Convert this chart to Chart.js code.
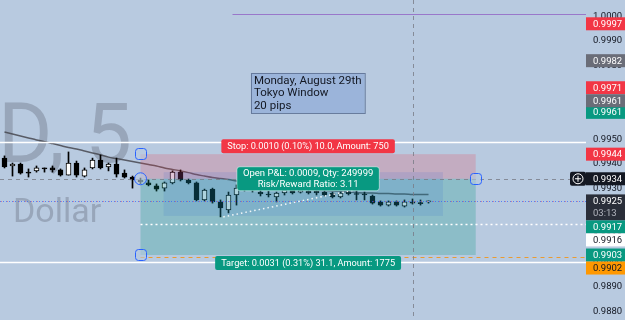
<!DOCTYPE html>
<html>
<head>
<meta charset="utf-8">
<script src="https://cdn.jsdelivr.net/npm/chart.js@4.4.0/dist/chart.umd.min.js"></script>
<style>
  html, body { margin: 0; padding: 0; background: #b8cae0; }
  #wrap { width: 625px; height: 320px; position: relative; }
</style>
</head>
<body>
<div id="wrap"><canvas id="candleChart"></canvas></div>
<script>
// 5 min candles, oldest first
const opens = [0.99424, 0.99392, 0.99400, 0.99367, 0.99372, 0.99384, 0.99384, 0.99376, 0.99355, 0.99404,
  0.99351, 0.99384, 0.99416, 0.99388, 0.99400, 0.99363, 0.99347, 0.99335, 0.99323, 0.99311,
  0.99302, 0.99323, 0.99367, 0.99335, 0.99323, 0.99254, 0.99298, 0.99246, 0.99213, 0.99274,
  0.99298, 0.99311, 0.99286, 0.99278, 0.99266, 0.99282, 0.99294, 0.99286, 0.99290, 0.99290,
  0.99286, 0.99282, 0.99266, 0.99286, 0.99280, 0.99278, 0.99270, 0.99246, 0.99233, 0.99246,
  0.99229, 0.99246, 0.99243, 0.99246];
const highs = [0.99433, 0.99404, 0.99404, 0.99380, 0.99392, 0.99384, 0.99392, 0.99380, 0.99449, 0.99412,
  0.99384, 0.99424, 0.99437, 0.99404, 0.99424, 0.99376, 0.99351, 0.99343, 0.99335, 0.99319,
  0.99327, 0.99372, 0.99376, 0.99339, 0.99327, 0.99298, 0.99302, 0.99254, 0.99286, 0.99315,
  0.99315, 0.99319, 0.99294, 0.99290, 0.99286, 0.99302, 0.99298, 0.99302, 0.99298, 0.99294,
  0.99294, 0.99286, 0.99286, 0.99290, 0.99294, 0.99286, 0.99274, 0.99250, 0.99250, 0.99250,
  0.99254, 0.99258, 0.99254, 0.99250];
const lows = [0.99384, 0.99351, 0.99359, 0.99347, 0.99367, 0.99367, 0.99367, 0.99351, 0.99355, 0.99347,
  0.99347, 0.99380, 0.99380, 0.99372, 0.99347, 0.99343, 0.99302, 0.99319, 0.99311, 0.99290,
  0.99290, 0.99319, 0.99331, 0.99319, 0.99250, 0.99250, 0.99241, 0.99185, 0.99201, 0.99233,
  0.99290, 0.99286, 0.99270, 0.99266, 0.99246, 0.99274, 0.99278, 0.99282, 0.99278, 0.99274,
  0.99270, 0.99262, 0.99262, 0.99274, 0.99254, 0.99254, 0.99237, 0.99229, 0.99229, 0.99229,
  0.99225, 0.99237, 0.99233, 0.99241];
const closes = [0.99388, 0.99400, 0.99363, 0.99363, 0.99384, 0.99380, 0.99376, 0.99355, 0.99404, 0.99355,
  0.99376, 0.99416, 0.99384, 0.99400, 0.99359, 0.99347, 0.99335, 0.99327, 0.99315, 0.99298,
  0.99323, 0.99367, 0.99335, 0.99323, 0.99254, 0.99294, 0.99246, 0.99221, 0.99274, 0.99302,
  0.99311, 0.99294, 0.99278, 0.99274, 0.99282, 0.99294, 0.99282, 0.99294, 0.99282, 0.99282,
  0.99274, 0.99266, 0.99282, 0.99278, 0.99276, 0.99274, 0.99241, 0.99233, 0.99246, 0.99233,
  0.99246, 0.99241, 0.99239, 0.99250];
// moving average
const maValues = [0.99530, 0.99522, 0.99514, 0.99506, 0.99498, 0.99491, 0.99483, 0.99475, 0.99467, 0.99461,
  0.99453, 0.99445, 0.99437, 0.99428, 0.99422, 0.99416, 0.99410, 0.99404, 0.99398, 0.99392,
  0.99384, 0.99378, 0.99372, 0.99365, 0.99357, 0.99351, 0.99345, 0.99341, 0.99337, 0.99331,
  0.99327, 0.99323, 0.99319, 0.99315, 0.99311, 0.99307, 0.99304, 0.99300, 0.99298, 0.99294,
  0.99292, 0.99290, 0.99288, 0.99286, 0.99284, 0.99282, 0.99282, 0.99280, 0.99280, 0.99278,
  0.99278, 0.99276, 0.99276, 0.99276];

// price scale ticks
const priceTicks = [1.0000, 0.9990, 0.9980, 0.9970, 0.9960, 0.9950, 0.9940, 0.9930, 0.9920, 0.9910, 0.9900, 0.9890, 0.9880];

// short position tool
const entryPrice = 0.9934;
const stopPrice = 0.9944;
const targetPrice = 0.9903;
const positionBars = [17, 58.9];
const rangeBars = [19.9, 54.8];
const rangePrices = [0.99367, 0.99189];
const stopText = "Stop: 0.0010 (0.10%) 10.0, Amount: 750";
const pnlText = ["Open P&L: 0.0009, Qty: 249999", "Risk/Reward Ratio: 3.11"];
const targetText = "Target: 0.0031 (0.31%) 31.1, Amount: 1775";

// other drawings
const noteText = ["Monday, August 29th", "Tokyo Window", "20 pips"];
const noteAnchor = [30.8, 0.99770];
const trendBars = [27.35, 44];
const trendPrices = [0.99185, 0.99296];
const crosshairBar = 51;
const crosshairPrice = 0.9934;
const lastPrice = 0.9925;
const countdown = "03:13";

// price scale labels, in drawing priority
const labelPrices = [0.9934, 0.9925, 0.9961, 0.9903, 0.9944, 0.9997, 0.9971, 0.9982, 0.9961, 0.9917, 0.9916, 0.9902];
const labelFills = ["#131722", "#2a2e39", "#089981", "#089981", "#f23645", "#f23645", "#f23645", "#6a6d78", "#6a6d78", "#089981", "#ffffff", "#ff9800"];
const labelInk = ["#ffffff", "#ffffff", "#ffffff", "#ffffff", "#ffffff", "#ffffff", "#ffffff", "#ffffff", "#ffffff", "#ffffff", "#131722", "#131722"];

const priceMin = 0.987659;
const priceMax = 1.000667;
const FONT = "Roboto, 'Liberation Sans', sans-serif";

const bodyData = opens.map((o, i) => ({ x: i, y: [o, closes[i]] }));
const wickData = opens.map((o, i) => ({ x: i, y: [lows[i], highs[i]] }));
const maData = maValues.map((v, i) => ({ x: i, y: v }));
const bodyColors = opens.map((o, i) => (closes[i] >= o ? "#ffffff" : "#000000"));

function roundRect(ctx, x, y, w, h, r) {
  ctx.beginPath();
  ctx.moveTo(x + r, y);
  ctx.arcTo(x + w, y, x + w, y + h, r);
  ctx.arcTo(x + w, y + h, x, y + h, r);
  ctx.arcTo(x, y + h, x, y, r);
  ctx.arcTo(x, y, x + w, y, r);
  ctx.closePath();
}

function hLine(ctx, area, py, x0, color, dash, width) {
  ctx.save();
  ctx.strokeStyle = color;
  ctx.lineWidth = width || 1;
  ctx.setLineDash(dash || []);
  ctx.beginPath();
  const yy = Math.round(py) + 0.5;
  ctx.moveTo(x0, yy);
  ctx.lineTo(area.right + 3, yy);
  ctx.stroke();
  ctx.restore();
}

// watermark behind the candles
const watermark = {
  id: "watermark",
  beforeDatasetsDraw(chart) {
    const ctx = chart.ctx;
    ctx.save();
    ctx.fillStyle = "rgba(112,122,140,0.45)";
    ctx.textBaseline = "alphabetic";
    ctx.font = "83px " + FONT;
    ctx.fillText("D, 5", -2, 162);
    ctx.font = "34px " + FONT;
    ctx.fillText("Dollar", 13, 222);
    ctx.restore();
  },
};

// drawings over the candles
const drawings = {
  id: "drawings",
  afterDatasetsDraw(chart) {
    const ctx = chart.ctx;
    const area = chart.chartArea;
    const xs = chart.scales.x;
    const ys = chart.scales.y;
    const px = (v) => xs.getPixelForValue(v);
    const py = (v) => ys.getPixelForValue(v);

    // position zones
    const x0 = px(positionBars[0]);
    const x1 = px(positionBars[1]);
    const yStop = py(stopPrice);
    const yEntry = py(entryPrice);
    const yTarget = py(targetPrice);
    ctx.save();
    ctx.fillStyle = "rgba(242,54,69,0.2)";
    ctx.fillRect(x0, yStop, x1 - x0, yEntry - yStop);
    ctx.fillStyle = "rgba(8,153,129,0.25)";
    ctx.fillRect(x0, yEntry, x1 - x0, yTarget - yEntry);
    ctx.fillStyle = "rgba(50,90,210,0.13)";
    const rx0 = px(rangeBars[0]);
    const rx1 = px(rangeBars[1]);
    ctx.fillRect(rx0, py(rangePrices[0]), rx1 - rx0, py(rangePrices[1]) - py(rangePrices[0]));
    ctx.restore();

    // horizontal lines
    hLine(ctx, area, py(1.0001), px(28.5), "rgba(150,110,200,0.9)");
    hLine(ctx, area, py(0.9949), 0, "#ffffff", [], 1.5);
    hLine(ctx, area, py(0.9900), 0, "#ffffff", [], 1.5);
    hLine(ctx, area, py(0.99155), x0, "#ffffff", [2, 3], 1.5);
    hLine(ctx, area, py(0.9902), x0, "rgba(240,150,30,0.9)", [4, 4]);
    hLine(ctx, area, py(lastPrice), 0, "rgba(41,98,255,0.7)", [1, 2]);
    hLine(ctx, area, py(lastPrice), 1, "rgba(242,54,69,0.5)", [1, 5]);
    // crosshair
    hLine(ctx, area, py(crosshairPrice), 0, "rgba(120,123,134,0.8)", [4, 4]);
    ctx.save();
    ctx.strokeStyle = "rgba(120,123,134,0.8)";
    ctx.setLineDash([4, 4]);
    ctx.beginPath();
    ctx.moveTo(Math.round(px(crosshairBar)) + 0.5, 0);
    ctx.lineTo(Math.round(px(crosshairBar)) + 0.5, area.bottom);
    ctx.stroke();
    ctx.restore();

    // dotted trend line
    ctx.save();
    ctx.strokeStyle = "rgba(255,255,255,0.9)";
    ctx.lineWidth = 1.5;
    ctx.setLineDash([1.5, 3]);
    ctx.beginPath();
    ctx.moveTo(px(trendBars[0]), py(trendPrices[0]));
    ctx.lineTo(px(trendBars[1]), py(trendPrices[1]));
    ctx.stroke();
    ctx.restore();

    // handles
    ctx.save();
    ctx.strokeStyle = "#2962ff";
    ctx.lineWidth = 1;
    ctx.fillStyle = "rgba(184,202,224,0.6)";
    [[x0, yStop], [x0, yTarget], [x1, yEntry]].forEach(([hx, hy]) => {
      roundRect(ctx, Math.round(hx) - 5.5, Math.round(hy) - 5.5, 11, 11, 3);
      ctx.fill();
      ctx.stroke();
    });
    ctx.beginPath();
    ctx.arc(x0, yEntry, 6, 0, Math.PI * 2);
    ctx.fill();
    ctx.stroke();
    ctx.restore();

    // position labels
    const mid = (x0 + x1) / 2;
    ctx.save();
    ctx.font = "9.2px " + FONT;
    ctx.textAlign = "center";
    ctx.textBaseline = "middle";
    let w = ctx.measureText(stopText).width + 12;
    ctx.fillStyle = "#f23645";
    roundRect(ctx, mid - w / 2, yStop - 15, w, 14, 2);
    ctx.fill();
    ctx.fillStyle = "#ffffff";
    ctx.fillText(stopText, mid, yStop - 7.5);

    w = ctx.measureText(targetText).width + 12;
    ctx.fillStyle = "#089981";
    roundRect(ctx, mid - w / 2, yTarget + 1, w, 14, 2);
    ctx.fill();
    ctx.fillStyle = "#ffffff";
    ctx.fillText(targetText, mid, yTarget + 8.5);

    ctx.font = "9.5px " + FONT;
    w = Math.max(...pnlText.map((t) => ctx.measureText(t).width)) + 12;
    ctx.fillStyle = "#089981";
    roundRect(ctx, mid - w / 2, yEntry - 12, w, 24, 3);
    ctx.fill();
    ctx.strokeStyle = "rgba(255,255,255,0.5)";
    ctx.stroke();
    ctx.fillStyle = "#ffffff";
    ctx.fillText(pnlText[0], mid, yEntry - 5);
    ctx.fillText(pnlText[1], mid, yEntry + 6);
    ctx.restore();

    // text note
    ctx.save();
    ctx.font = "11.5px " + FONT;
    const nx = px(noteAnchor[0]);
    const ny = py(noteAnchor[1]);
    const nw = Math.max(...noteText.map((t) => ctx.measureText(t).width)) + 6;
    ctx.fillStyle = "rgba(100,140,205,0.35)";
    ctx.strokeStyle = "rgba(95,115,150,0.9)";
    ctx.fillRect(nx, ny, nw, 40);
    ctx.strokeRect(Math.round(nx) + 0.5, Math.round(ny) + 0.5, nw, 40);
    ctx.fillStyle = "#131722";
    ctx.textBaseline = "middle";
    noteText.forEach((t, i) => ctx.fillText(t, nx + 3, ny + 8 + i * 12.5));
    ctx.restore();

    // price scale labels, moved off each other when they overlap
    const placed = [];
    const collides = (top, h) => placed.some((b) => top < b.top + b.h - 2 && top + h - 2 > b.top);
    ctx.save();
    ctx.font = "9.5px " + FONT;
    ctx.textBaseline = "middle";
    labelPrices.forEach((p, i) => {
      const h = p === lastPrice && i === 1 ? 26 : 13;
      let top = py(p) - 6.5;
      if (collides(top, h)) {
        const cands = [];
        placed.forEach((b) => cands.push(b.top - h, b.top + b.h));
        top = cands
          .filter((c) => !collides(c, h))
          .sort((a, b) => Math.abs(a - top) - Math.abs(b - top) || a - b)[0];
      }
      placed.push({ top, h });
      ctx.fillStyle = labelFills[i];
      ctx.fillRect(area.right + 3, top, 42, h);
      ctx.fillStyle = labelInk[i];
      ctx.fillText(p.toFixed(4), area.right + 10, top + 7);
      if (h > 13) {
        ctx.fillStyle = "#b2b5be";
        ctx.fillText(countdown, area.right + 10, top + 19.5);
      }
    });
    ctx.restore();

    // add alert button at the crosshair
    const cy = py(crosshairPrice);
    ctx.save();
    ctx.fillStyle = "#131722";
    roundRect(ctx, area.right - 13, cy - 7, 16, 14, 2);
    ctx.fill();
    ctx.strokeStyle = "#ffffff";
    ctx.lineWidth = 1;
    ctx.beginPath();
    ctx.arc(area.right - 5, cy, 5, 0, Math.PI * 2);
    ctx.moveTo(area.right - 8, cy);
    ctx.lineTo(area.right - 2, cy);
    ctx.moveTo(area.right - 5, cy - 3);
    ctx.lineTo(area.right - 5, cy + 3);
    ctx.stroke();
    ctx.restore();
  },
};

new Chart(document.getElementById("candleChart"), {
  type: "bar",
  data: {
    datasets: [
      {
        label: "body",
        data: bodyData,
        backgroundColor: bodyColors,
        borderColor: "#000000",
        borderWidth: 1,
        borderSkipped: false,
        barThickness: 5,
        grouped: false,
      },
      {
        label: "wick",
        data: wickData,
        backgroundColor: "#000000",
        borderWidth: 0,
        barThickness: 1,
        grouped: false,
      },
      {
        type: "line",
        label: "MA",
        data: maData,
        borderColor: "rgba(70,72,80,0.85)",
        borderWidth: 1.5,
        pointRadius: 0,
        tension: 0.3,
      },
    ],
  },
  options: {
    responsive: true,
    maintainAspectRatio: false,
    animation: false,
    events: [],
    layout: { padding: 0 },
    plugins: {
      legend: { display: false },
      tooltip: { enabled: false },
    },
    scales: {
      x: {
        type: "linear",
        offset: false,
        min: -0.5625,
        max: 72.3125,
        display: false,
      },
      y: {
        position: "right",
        min: priceMin,
        max: priceMax,
        grid: { display: false, drawTicks: true, tickLength: 10 },
        border: { display: false },
        afterBuildTicks: (scale) => {
          scale.ticks = priceTicks.map((v) => ({ value: v }));
        },
        ticks: {
          autoSkip: false,
          padding: 0,
          color: "#131722",
          font: { family: FONT, size: 9.5 },
          callback: (v) => v.toFixed(4),
        },
        afterFit: (scale) => {
          scale.width = 42;
          scale.paddingTop = 0;
          scale.paddingBottom = 0;
        },
      },
    },
  },
  plugins: [watermark, drawings],
});
</script>
</body>
</html>
